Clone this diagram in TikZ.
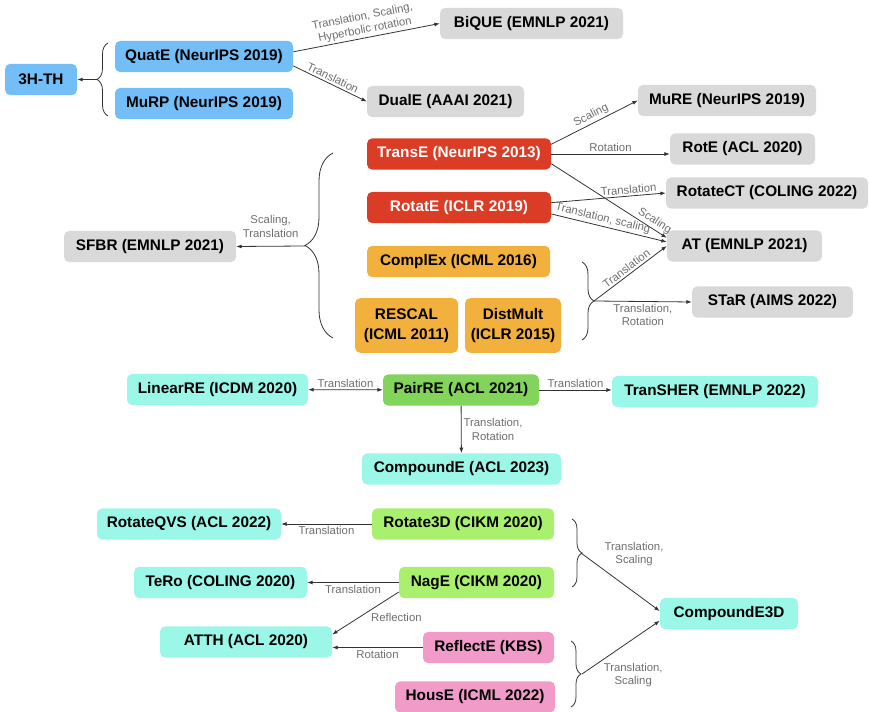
\documentclass[tikz,border=0pt]{standalone}
\usepackage{fontspec}
\setmainfont{Liberation Sans}
\usepackage{tikz}
\usetikzlibrary{arrows.meta,decorations.pathreplacing,calc,positioning}
\definecolor{SkyBlue}{RGB}{116,190,248}
\definecolor{SoftGray}{RGB}{217,217,217}
\definecolor{BrickRed}{RGB}{218,60,38}
\definecolor{AmberOrange}{RGB}{242,176,60}
\definecolor{AquaCyan}{RGB}{155,247,232}
\definecolor{LeafGreen}{RGB}{130,212,90}
\definecolor{LimeGreen}{RGB}{168,240,110}
\definecolor{RosePink}{RGB}{240,155,200}
\definecolor{LabelGray}{RGB}{110,110,110}
\tikzset{
  model/.style={rounded corners=4pt,minimum height=23.5pt,minimum width=#1*0.75pt,
    inner sep=0pt,align=center,font=\fontsize{11.5}{15}\selectfont\bfseries},
  rel/.style={font=\fontsize{8.5}{10}\selectfont,text=LabelGray,inner sep=1.5pt,align=center},
  link/.style={->,line width=0.6pt,black!80},
  grp/.style={decorate,decoration={brace,amplitude=#1},line width=0.6pt,black!80},
}

\begin{document}
\begin{tikzpicture}[x=0.75pt,y=-0.75pt,>={Latex[length=4pt,width=3pt]}]
  \useasboundingbox (0,0) rectangle (869,712);
  % hyperbolic / quaternion group
  \node[model=72,fill=SkyBlue] (hth) at (41,79.5) {3H-TH};
  \node[model=178,fill=SkyBlue] (quate) at (204,56.5) {QuatE (NeurIPS 2019)};
  \node[model=178,fill=SkyBlue] (murp) at (204,103.5) {MuRP (NeurIPS 2019)};
  \node[model=183,fill=SoftGray] (bique) at (531.5,23.5) {BiQUE (EMNLP 2021)};
  \node[model=157,fill=SoftGray] (duale) at (445.5,101.5) {DualE (AAAI 2021)};
  \draw[grp=8.25pt] (108,116) -- (108,43);
  \coordinate (grpA) at (97,79.5);
  \draw[link] (grpA) -- (hth.east);
  \draw[link] (quate.3) -- (bique.west) node[rel,midway,above,sloped] {Translation, Scaling,\\Hyperbolic rotation};
  \draw[link] (quate.-6) -- (duale.west) node[rel,midway,above,sloped] {Translation};

  % translational / bilinear group
  \node[model=184,fill=BrickRed,text=white] (transe) at (459,154) {TransE (NeurIPS 2013)};
  \node[model=184,fill=BrickRed,text=white] (rotate) at (459,207.5) {RotatE (ICLR 2019)};
  \node[model=183,fill=AmberOrange] (complex) at (458.5,261.5) {ComplEx (ICML 2016)};
  \node[model=103,minimum height=41pt,fill=AmberOrange] (rescal) at (406.5,325.5) {RESCAL\\(ICML 2011)};
  \node[model=96,minimum height=41pt,fill=AmberOrange] (distmult) at (513,325.5) {DistMult\\(ICLR 2015)};
  \node[model=172,fill=SoftGray] (sfbr) at (150,246.5) {SFBR (EMNLP 2021)};
  \node[model=178,fill=SoftGray] (mure) at (727,100.5) {MuRE (NeurIPS 2019)};
  \node[model=145,fill=SoftGray] (rote) at (742.5,149) {RotE (ACL 2020)};
  \node[model=202,fill=SoftGray] (rotatect) at (767,193) {RotateCT (COLING 2022)};
  \node[model=155,fill=SoftGray] (atm) at (744.5,246) {AT (EMNLP 2021)};
  \node[model=161,fill=SoftGray] (star) at (772.5,302) {STaR (AIMS 2022)};
  \draw[grp=21pt] (333,338) -- (333,153);
  \coordinate (grpB) at (305,246);
  \draw[link] (grpB) -- (sfbr.east) node[rel,midway,above=5pt] {Scaling,\\Translation};
  \draw[link] (transe.6) -- (mure.west) node[rel,midway,above,sloped] {Scaling};
  \draw[link] (transe.east) -- (transe.east -| rote.west) node[rel,midway,above] {Rotation};
  \draw[link] (transe.-6) -- (atm.174) node[rel,pos=0.86,above,sloped] {Scaling};
  \draw[link] (rotate.3) -- (rotatect.west) node[rel,pos=0.68,above,sloped] {Translation};
  \draw[link] (rotate.-4) -- (atm.177) node[rel,pos=0.43,above,sloped] {Translation, scaling};
  \draw[grp=9pt] (582,262) -- (582,340);
  \coordinate (grpC) at (594,301);
  \draw[link] (grpC) -- (atm.west) node[rel,midway,above,sloped] {Translation};
  \draw[link] (grpC) -- (star.west) node[rel,midway,below] {Translation,\\Rotation};

  % PairRE row
  \node[model=181,fill=AquaCyan] (linearre) at (217.5,389.5) {LinearRE (ICDM 2020)};
  \node[model=156,fill=LeafGreen] (pairre) at (461,390) {PairRE (ACL 2021)};
  \node[model=206,fill=AquaCyan] (transher) at (715,391.5) {TranSHER (EMNLP 2022)};
  \node[model=199,fill=AquaCyan] (compounde) at (461.5,469) {CompoundE (ACL 2023)};
  \draw[link,<->] (linearre) -- (pairre) node[rel,midway,above] {Translation};
  \draw[link] (pairre) -- (pairre -| transher.west) node[rel,midway,above] {Translation};
  \draw[link] (pairre) -- (compounde) node[rel,midway,right] {Translation,\\Rotation};

  % 3D rotation / reflection group
  \node[model=184,fill=AquaCyan] (rotateqvs) at (189,524) {RotateQVS (ACL 2022)};
  \node[model=182,fill=LimeGreen] (rotate3d) at (463,524) {Rotate3D (CIKM 2020)};
  \node[model=173,fill=AquaCyan] (tero) at (220.5,582.5) {TeRo (COLING 2020)};
  \node[model=155,fill=LimeGreen] (nage) at (476.5,582.5) {NagE (CIKM 2020)};
  \node[model=172,fill=AquaCyan] (atth) at (246,642) {ATTH (ACL 2020)};
  \node[model=131,fill=RosePink] (reflecte) at (488.5,647.5) {ReflectE (KBS)};
  \node[model=160,fill=RosePink] (house) at (475,697) {HousE (ICML 2022)};
  \node[model=138,fill=AquaCyan] (compounde3d) at (729,613.5) {CompoundE3D};
  \draw[link] (rotate3d) -- (rotateqvs) node[rel,midway,below] {Translation};
  \draw[link] (nage) -- (tero) node[rel,midway,below] {Translation};
  \draw[link] (nage.187) -- (atth.5) node[rel,pos=0.45,below right] {Reflection};
  \draw[link] (reflecte.west) -- (reflecte.west -| atth.east) node[rel,midway,below] {Rotation};
  \draw[grp=7.5pt] (572,519) -- (572,587);
  \coordinate (grpD) at (581,553);
  \draw[grp=7.5pt] (571,641) -- (571,707);
  \coordinate (grpE) at (582,674);
  \draw[link] (grpD) -- (compounde3d.178) node[rel,pos=0.27,above right] {Translation,\\Scaling};
  \draw[link] (grpE) -- (compounde3d.186) node[rel,pos=0.25,below right] {Translation,\\Scaling};
\end{tikzpicture}
\end{document}
